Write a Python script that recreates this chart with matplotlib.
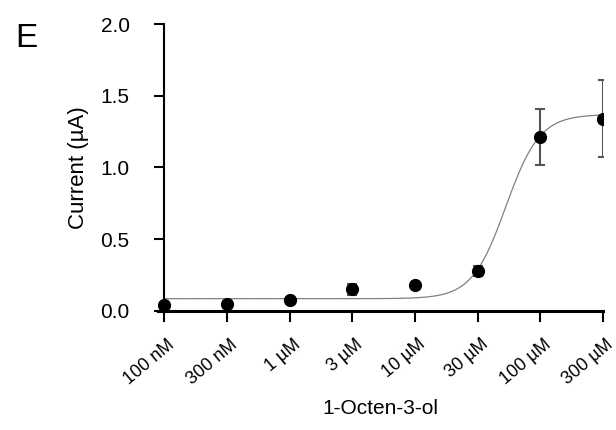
import matplotlib.pyplot as plt
import matplotlib.transforms as mtransforms
import numpy as np

plt.rcParams['font.family'] = ['Liberation Sans', 'DejaVu Sans']

# concentrations (categorical axis) and mean current with SEM
conc_labels = ["100 nM", "300 nM", "1 \u00b5M", "3 \u00b5M", "10 \u00b5M", "30 \u00b5M", "100 \u00b5M", "300 \u00b5M"]
current = [0.04, 0.045, 0.075, 0.15, 0.18, 0.28, 1.21, 1.34]
err = [0.0, 0.0, 0.0, 0.04, 0.0, 0.035, 0.195, 0.27]

# Hill fit parameters (in category index units)
fit_bottom = 0.085
fit_top = 1.37
fit_mid = 5.45
fit_k = 3.7

x = np.arange(len(conc_labels))
xf = np.linspace(0, len(conc_labels) - 1, 300)
yf = fit_bottom + (fit_top - fit_bottom) / (1 + np.exp(fit_k * (fit_mid - xf)))

fig = plt.figure(figsize=(6.16, 4.30), dpi=100)
ax = fig.add_axes([0.2565, 0.277, 0.7224, 0.667])

ax.plot(xf, yf, color='#808080', lw=0.9, zorder=1)
ax.errorbar(x, current, yerr=err, fmt='o', color='black', ms=8.5,
            ecolor='#555555', elinewidth=1.5, capsize=3.5, capthick=1.5, zorder=2)

ax.set_xlim(-0.1, 7)
ax.set_ylim(0, 2.0)
ax.spines['left'].set_position(('data', 0))
ax.spines['right'].set_visible(False)
ax.spines['top'].set_visible(False)
ax.spines['left'].set_linewidth(1.5)
ax.spines['bottom'].set_linewidth(2.2)

ax.set_yticks([0, 0.5, 1.0, 1.5, 2.0])
ax.set_yticklabels(["0.0", "0.5", "1.0", "1.5", "2.0"], fontsize=15)
ax.set_xticks(x)
ax.set_xticklabels(conc_labels, fontsize=13, rotation=40, ha='right', rotation_mode='anchor')
ax.tick_params(axis='y', direction='out', length=7, width=1.5, pad=18)
ax.tick_params(axis='x', direction='out', length=8, width=1.5, pad=5)

# nudge the rotated labels right/down like the original
shift = mtransforms.ScaledTranslation(0.03, -0.07, fig.dpi_scale_trans)
for lab in ax.get_xticklabels():
    lab.set_transform(lab.get_transform() + shift)

ax.set_ylabel("Current (\u00b5A)", fontsize=16, labelpad=8)
ax.set_xlabel("1-Octen-3-ol", fontsize=15, labelpad=8)

fig.text(0.024, 0.891, "E", fontsize=24)

fig.savefig("out.png", dpi=100)
